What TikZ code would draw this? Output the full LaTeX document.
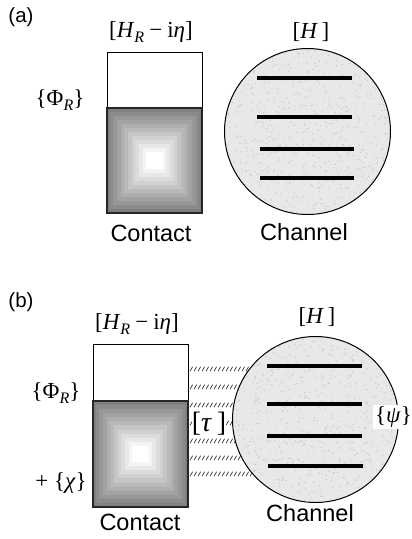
\documentclass[tikz,border=0pt]{standalone}
\usepackage{fontspec}
\setmainfont{Liberation Sans}
\newfontfamily\tms{Liberation Serif}
\newcommand{\subR}{\raisebox{-0.22em}{\fontsize{16}{16}\selectfont\itshape R}}
\newcommand{\mns}{\hspace{0.22em}−\hspace{0.22em}}
\begin{document}
\begin{tikzpicture}[x=1pt,y=-1pt,
  lab/.style={font=\fontsize{23.5}{26}\selectfont, inner sep=0pt},
  plab/.style={font=\fontsize{20.5}{23}\selectfont, inner sep=0pt},
  mlab/.style={font=\tms\fontsize{23}{26}\selectfont, inner sep=1pt},
  taulab/.style={font=\tms\fontsize{28}{30}\selectfont, fill=white, inner sep=0.3pt},
  topbox/.style={draw=black, line width=1pt, fill=white, inner sep=0pt, minimum width=95pt, minimum height=56pt},
  botbox/.style={draw=black!85, line width=1.4pt, inner sep=0pt, minimum width=95pt, minimum height=105pt},
  chan/.style={draw=black, line width=1pt, circle, inner sep=0pt, minimum size=166pt, fill=black!9},
  level/.style={line width=4.5pt},
  hatch/.style={line width=0.7pt, black!80}
]
\useasboundingbox (0,0) rectangle (412,539);
\fill[white] (0,0) rectangle (412,539);

% ===================== (a) =====================
\node[plab] (la) at (21,17) {(a)};
\node[topbox] (wa) at (154.5,80) {};
\foreach \i in {0,...,11}{
  \pgfmathsetmacro{\w}{47.5*(1-\i/13)}
  \pgfmathsetmacro{\h}{52.5*(1-\i/13)}
  \pgfmathsetmacro{\c}{50-\i*50/11}
  \fill[black!\c] (153.5-\w,160.5-\h) rectangle (155.5+\w,160.5+\h);
}
\node[botbox] (ga) at (154.5,160.5) {};
\node[mlab] (ha) at (151,32) {[\textit{H}\subR\mns i\textit{η}]};
\node[mlab] (pa) at (60,100) {\{Φ\subR\}};
\node[lab] (ca) at (151,233) {Contact};
\node[chan] (cha) at (307.5,131.5) {};
\begin{scope}
  \clip (cha.center) circle (82.5);
  \pgfmathsetseed{7}
  \foreach \k in {1,...,700}{
    \pgfmathsetmacro{\rx}{307.5+83*rand}
    \pgfmathsetmacro{\ry}{131.5+83*rand}
    \fill[black!22] (\rx,\ry) circle (0.7);
  }
\end{scope}
\node[mlab] (Ha) at (311,32) {[\textit{H}\,]};
\coordinate (a1l) at (257,78);  \coordinate (a1r) at (352,78);
\coordinate (a2l) at (257,117); \coordinate (a2r) at (352,117);
\coordinate (a3l) at (260,149); \coordinate (a3r) at (354,149);
\coordinate (a4l) at (260,178); \coordinate (a4r) at (354,178);
\draw[level] (a1l) -- (a1r);
\draw[level] (a2l) -- (a2r);
\draw[level] (a3l) -- (a3r);
\draw[level] (a4l) -- (a4r);
\node[lab] (cna) at (304,232) {Channel};

% ===================== (b) =====================
\node[plab] (lb) at (21,302) {(b)};
% hatched coupling bands
\foreach \y in {369,387,405,423,441,458,474}{
  \foreach \x in {190,194,...,258}{
    \draw[hatch] (\x,\y+2.2) -- (\x+2.6,\y-2.2);
  }
}
\node[topbox] (wb) at (140.5,372) {};
\foreach \i in {0,...,11}{
  \pgfmathsetmacro{\w}{47.5*(1-\i/13)}
  \pgfmathsetmacro{\h}{53*(1-\i/13)}
  \pgfmathsetmacro{\c}{50-\i*50/11}
  \fill[black!\c] (139.5-\w,454-\h) rectangle (141.5+\w,454+\h);
}
\node[botbox, minimum height=106pt] (gb) at (140.5,454) {};
\node[mlab] (hb) at (137,324) {[\textit{H}\subR\mns i\textit{η}]};
\node[mlab] (pb) at (56,393) {\{Φ\subR\}};
\node[mlab] (xb) at (61,483) {+\hspace{0.25em}\{\textit{χ}\}};
\node[lab] (cb) at (140,522) {Contact};
\node[chan] (chb) at (315.5,419.5) {};
\begin{scope}
  \clip (chb.center) circle (82.5);
  \pgfmathsetseed{11}
  \foreach \k in {1,...,700}{
    \pgfmathsetmacro{\rx}{315.5+83*rand}
    \pgfmathsetmacro{\ry}{419.5+83*rand}
    \fill[black!22] (\rx,\ry) circle (0.7);
  }
\end{scope}
\node[taulab] (tb) at (209,424) {[\textit{τ}\,]};
\node[mlab] (Hb) at (317,317) {[\textit{H}\,]};
\coordinate (b1l) at (267,366); \coordinate (b1r) at (362,366);
\coordinate (b2l) at (267,404); \coordinate (b2r) at (362,404);
\coordinate (b3l) at (267,436); \coordinate (b3r) at (362,436);
\coordinate (b4l) at (268,466); \coordinate (b4r) at (363,466);
\draw[level] (b1l) -- (b1r);
\draw[level] (b2l) -- (b2r);
\draw[level] (b3l) -- (b3r);
\draw[level] (b4l) -- (b4r);
\node[mlab, fill=white, inner sep=2pt] (psi) at (393.5,417) {\{\textit{ψ}\}};
\node[lab] (cnb) at (310,513) {Channel};
\end{tikzpicture}
\end{document}
